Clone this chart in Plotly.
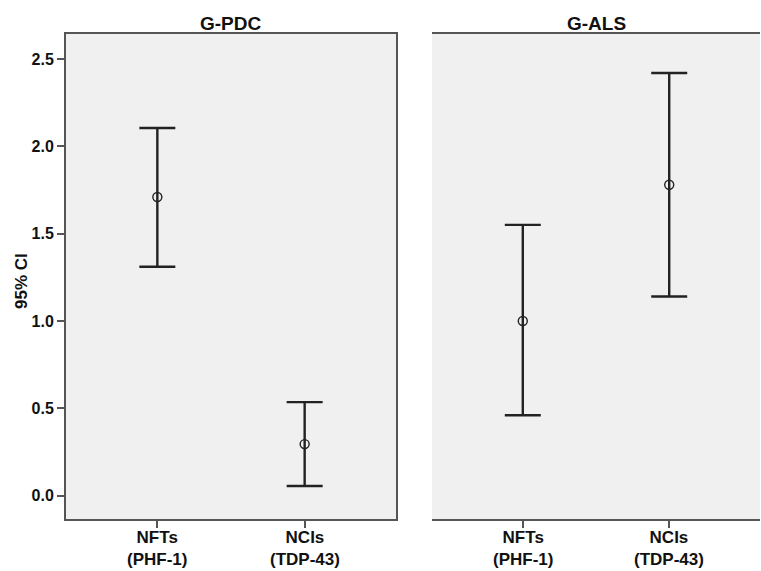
import plotly.graph_objects as go

categories = ["NFTs<br>(PHF-1)", "NCIs<br>(TDP-43)"]
panels = ["G-PDC", "G-ALS"]
pdc_mean = [1.71, 0.295]
pdc_upper = [2.105, 0.535]
pdc_lower = [1.31, 0.055]
als_mean = [1.00, 1.78]
als_upper = [1.55, 2.42]
als_lower = [0.46, 1.14]
y_ticks = [0.0, 0.5, 1.0, 1.5, 2.0, 2.5]
y_title = "95% CI"

FONT = "Liberation Sans, Arial, sans-serif"
DARK = "#222222"
BORDER = "#555555"
TEXT = "#111111"

fig = go.Figure()

for i, (m, up, lo) in enumerate([(pdc_mean, pdc_upper, pdc_lower),
                                  (als_mean, als_upper, als_lower)]):
    xa = "x" if i == 0 else "x2"
    fig.add_trace(go.Scatter(
        x=[0, 1], y=m, mode="markers", xaxis=xa, yaxis="y",
        marker=dict(symbol="circle-open", size=9, color=DARK, line=dict(width=1.4, color=DARK)),
        error_y=dict(type="data", symmetric=False,
                     array=[u - v for u, v in zip(up, m)],
                     arrayminus=[v - l for v, l in zip(m, lo)],
                     color=DARK, thickness=2.4, width=18),
        showlegend=False, hoverinfo="skip"))

axis_common = dict(
    range=[-0.62, 1.62], tickmode="array", tickvals=[0, 1], showticklabels=False,
    ticks="outside", ticklen=7, tickwidth=1.5, tickcolor=BORDER,
    showline=True, linecolor=BORDER, linewidth=2, mirror=True,
    showgrid=False, zeroline=False, automargin=False,
)

DOM1 = [0, 0.4755]
DOM2 = [0.5274, 1]

annotations = [
    dict(text=panels[0], x=sum(DOM1) / 2, y=1, xref="paper", yref="paper",
         xanchor="center", yanchor="middle", yshift=11, showarrow=False,
         font=dict(family=FONT, size=19, color=TEXT, weight="bold")),
    dict(text=panels[1], x=sum(DOM2) / 2, y=1, xref="paper", yref="paper",
         xanchor="center", yanchor="middle", yshift=11, showarrow=False,
         font=dict(family=FONT, size=19, color=TEXT, weight="bold")),
    dict(text=y_title, x=0, y=0.4907, xref="paper", yref="paper",
         xanchor="center", yanchor="middle", xshift=-45, textangle=-90,
         showarrow=False,
         font=dict(family=FONT, size=17, color=TEXT, weight="bold")),
]
# category labels under each panel's ticks
for xref in ["x", "x2"]:
    for ci, cat in enumerate(categories):
        annotations.append(dict(
            text=cat, x=ci, y=0, xref=xref, yref="paper",
            xanchor="center", yanchor="top", yshift=-8, borderpad=0,
            showarrow=False,
            font=dict(family=FONT, size=17, color=TEXT, weight="bold")))

fig.update_layout(
    width=761, height=571,
    margin=dict(l=66, r=1, t=34, b=52),
    paper_bgcolor="white", plot_bgcolor="#f0f0f0",
    xaxis=dict(domain=DOM1, **axis_common),
    xaxis2=dict(domain=DOM2, anchor="y", **axis_common),
    yaxis=dict(range=[-0.134, 2.643], tickvals=y_ticks,
               ticktext=[f"{v:.1f}" for v in y_ticks],
               ticks="outside", ticklen=7, tickwidth=1.5, tickcolor=BORDER,
               showline=True, linecolor=BORDER, linewidth=2, mirror=True,
               showgrid=False, zeroline=False, automargin=False,
               tickfont=dict(family=FONT, size=16, color=TEXT, weight="bold")),
    annotations=annotations,
)

fig.write_html("out.html", config={"displayModeBar": False},
               post_script="document.body.style.margin='0';")
